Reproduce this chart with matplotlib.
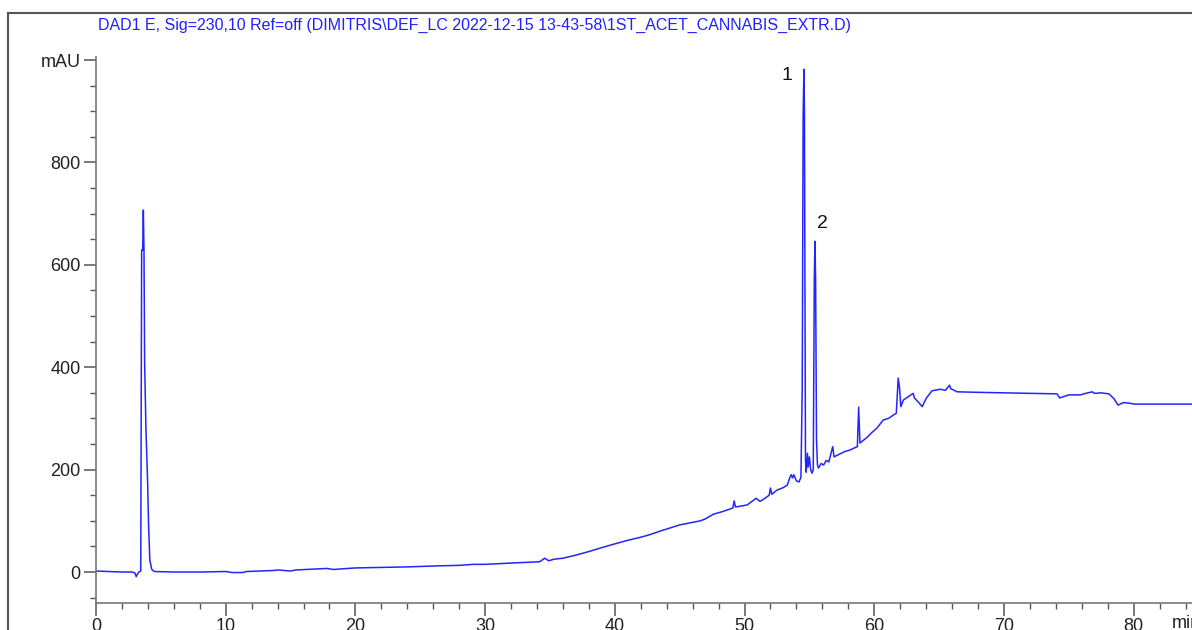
import matplotlib
matplotlib.use("Agg")
import matplotlib.pyplot as plt
from matplotlib.lines import Line2D
from matplotlib.ticker import MultipleLocator

plt.rcParams['font.family'] = ['Liberation Sans', 'DejaVu Sans']

title = r"DAD1 E, Sig=230,10 Ref=off (DIMITRIS\DEF_LC 2022-12-15 13-43-58\1ST_ACET_CANNABIS_EXTR.D)"

time_min = [0.0, 1.0, 2.0, 2.8, 3.0, 3.1, 3.2, 3.3, 3.45, 3.52, 3.6, 3.65, 3.7, 3.75,
            3.85, 3.98, 4.05, 4.15, 4.3, 4.5, 6.0, 8.0, 10.0, 10.5, 11.3, 11.6, 13.7,
            14.0, 15.0, 15.4, 17.8, 18.3, 20.0, 22.0, 24.0, 26.3, 28.0, 29.1, 30.0,
            32.4, 34.2, 34.6, 34.9, 35.3, 36.0, 37.0, 38.0, 38.9, 40.0, 41.0, 42.0,
            42.7, 43.5, 44.0, 45.0, 46.0, 46.6, 47.0, 47.6, 48.3, 49.1, 49.2, 49.3,
            50.2, 50.9, 51.2, 51.4, 51.9, 52.0, 52.1, 52.5, 53.0, 53.3, 53.5, 53.6,
            53.7, 53.8, 54.0, 54.2, 54.35, 54.45, 54.52, 54.58, 54.62, 54.7, 54.75,
            54.85, 54.9, 55.0, 55.1, 55.2, 55.3, 55.38, 55.43, 55.48, 55.55, 55.62,
            55.7, 55.9, 56.1, 56.3, 56.5, 56.8, 56.9, 57.3, 57.7, 58.1, 58.7, 58.8,
            58.9, 59.4, 59.8, 60.2, 60.7, 61.1, 61.5, 61.7, 61.85, 61.95, 62.05,
            62.25, 62.6, 63.0, 63.1, 63.4, 63.7, 64.0, 64.45, 65.1, 65.5, 65.8, 65.9,
            66.4, 68.0, 70.0, 72.0, 74.1, 74.3, 75.0, 75.9, 76.3, 76.8, 77.0, 77.5,
            78.1, 78.5, 78.8, 79.2, 79.6, 80.1, 84.5]
signal_mau = [2, 1, 0, 0, -2, -9, -4, 0, 2, 629, 629, 707, 629, 408,
              281, 176, 95, 23, 5, 1, 0, 0, 1, -1, -1, 1, 3,
              4, 2, 4, 7, 5, 8, 9, 10, 12, 13, 15, 15,
              18, 20, 27, 22, 25, 27, 33, 40, 47, 55, 62, 68,
              73, 80, 84, 92, 97, 100, 104, 113, 118, 125, 139, 127,
              131, 144, 138, 141, 150, 164, 152, 160, 165, 170, 185, 190,
              184, 190, 178, 176, 185, 361, 893, 982, 893, 220, 195,
              232, 205, 225, 200, 193, 200, 572, 646, 572, 260, 210,
              203, 212, 209, 218, 215, 245, 225, 230, 235, 238, 245, 322,
              252, 262, 272, 281, 297, 300, 307, 310, 379, 360, 323,
              336, 342, 349, 340, 332, 323, 339, 354, 357, 355, 365, 358,
              352, 351, 350, 349, 348, 340, 346, 346, 349, 352, 349, 350,
              348, 338, 326, 331, 330, 328, 328]

peak_labels = ["1", "2"]
peak_label_pos = [(53.3, 970), (56.0, 680)]

y_ticks = [0, 200, 400, 600, 800, 1000]
y_tick_labels = ["0", "200", "400", "600", "800", "mAU"]
x_ticks = [0, 10, 20, 30, 40, 50, 60, 70, 80]

W, H = 1192, 630
fig = plt.figure(figsize=(W / 100, H / 100), dpi=100)
ax = fig.add_axes([96 / W, 1 - 603 / H, 1 - 96 / W, (603 - 57) / H])

ax.plot(time_min, signal_mau, color='#2424ff', lw=1.1)

ax.set_xlim(0, 84.5)
ax.set_ylim(-60.5, 1006)

for s in ['top', 'right']:
    ax.spines[s].set_visible(False)
for s in ['left', 'bottom']:
    ax.spines[s].set_color('#777777')
    ax.spines[s].set_linewidth(1.2)

ax.set_yticks(y_ticks)
ax.set_yticklabels(y_tick_labels)
ax.set_xticks(x_ticks)
ax.xaxis.set_minor_locator(MultipleLocator(2))
ax.yaxis.set_minor_locator(MultipleLocator(50))
ax.tick_params(axis='both', which='major', length=9, width=1.1, color='#555555',
               labelsize=13, labelcolor='#222222')
ax.tick_params(axis='both', which='minor', length=4.5, width=1.0, color='#555555')
ax.tick_params(axis='y', which='major', pad=2)
ax.tick_params(axis='x', which='major', pad=2)

for lab, (tx, ty) in zip(peak_labels, peak_label_pos):
    ax.text(tx, ty, lab, fontsize=14, color='#111111', ha='center', va='center')

fig.text(1172 / W, 1 - 615 / H, "min", fontsize=13, color='#222222', ha='left', va='top')
fig.text(98 / W, 1 - 25 / H, title, fontsize=11.5, color='#2020ff', ha='left', va='center')

# outer frame
fig.add_artist(Line2D([8 / W, 1], [1 - 13 / H, 1 - 13 / H], transform=fig.transFigure,
                      color='#555555', lw=1.5))
fig.add_artist(Line2D([8 / W, 8 / W], [0, 1 - 13 / H], transform=fig.transFigure,
                      color='#555555', lw=1.5))

fig.savefig("out.png", dpi=100)
